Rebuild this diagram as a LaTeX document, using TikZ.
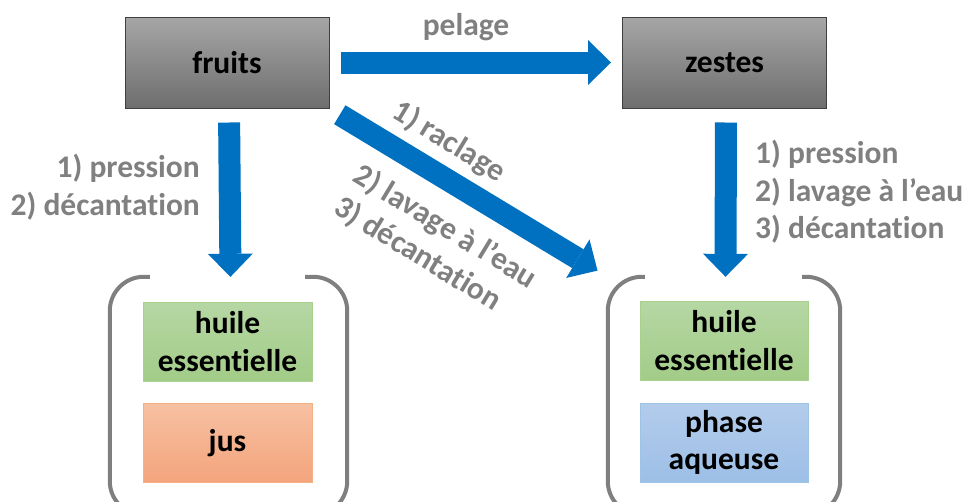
\documentclass[tikz,border=0pt]{standalone}
\usepackage{fontspec}
\setmainfont{Carlito}[Ligatures=NoCommon]
\usetikzlibrary{arrows.meta,calc}
\definecolor{arrowblue}{HTML}{0070C0}
\definecolor{labelgray}{HTML}{808080}
\definecolor{boxtop}{HTML}{A6A6A6}
\definecolor{boxbot}{HTML}{6E6E6E}
\definecolor{boxline}{HTML}{3F3F3F}
\definecolor{greentop}{HTML}{B6D7A4}
\definecolor{greenbot}{HTML}{A2CC88}
\definecolor{greenline}{HTML}{A9D18E}
\definecolor{orangetop}{HTML}{F6C0A2}
\definecolor{orangebot}{HTML}{F4A47C}
\definecolor{orangeline}{HTML}{F4B183}
\definecolor{bluetop}{HTML}{B3CCEC}
\definecolor{bluebot}{HTML}{9DBFE6}
\definecolor{blueline}{HTML}{9DC3E6}
\definecolor{bracketgray}{HTML}{7F7F7F}
\tikzset{
  big/.style={font=\bfseries\fontsize{31.5}{37.5}\selectfont},
  graybox/.style={big, draw=boxline, line width=1pt, top color=boxtop, bottom color=boxbot,
    minimum width=204pt, minimum height=91pt, inner sep=0pt, text=black},
  prodbox/.style={big, line width=1pt, minimum width=169pt, minimum height=79pt, inner sep=0pt,
    align=center, text=black},
  greenbox/.style={prodbox, draw=greenline, top color=greentop, bottom color=greenbot},
  orangebox/.style={prodbox, draw=orangeline, top color=orangetop, bottom color=orangebot},
  bluebox/.style={prodbox, draw=blueline, top color=bluetop, bottom color=bluebot},
  grp/.style={inner sep=0pt, minimum width=235pt, minimum height=238pt},
  bracket/.style={draw=bracketgray, line width=4pt, rounded corners=34pt},
  bigarrow/.style={draw=arrowblue, line width=22pt,
    -{Triangle[width=45pt,length=23pt,line width=0pt]}},
  lbl/.style={big, text=labelgray, inner sep=0pt}
}
\begin{document}
\begin{tikzpicture}[x=1pt,y=-1pt]
\useasboundingbox (0,0) rectangle (965,501);
\clip (0,0) rectangle (965,501);
% main boxes
\node[graybox] (fruits) at (227,62.5) {fruits};
\node[graybox] (zestes) at (724.5,62.5) {zestes};
% product boxes
\node[greenbox] (he1) at (227.5,341.5) {huile\\essentielle};
\node[orangebox] (jus) at (227.5,443) {jus};
\node[greenbox, minimum width=168pt] (he2) at (724,340.5) {huile\\essentielle};
\node[bluebox, minimum width=168pt] (phase) at (724,442.5) {phase\\aqueuse};
% groups
\node[grp, minimum width=237pt] (grpL) at (228.5,396) {};
\node[grp, minimum width=232pt] (grpR) at (724,396) {};
\draw[bracket] ([xshift=40pt]grpL.north west) -- (grpL.north west) -- (grpL.south west)
  -- (grpL.south east) -- (grpL.north east) -- ([xshift=-42pt]grpL.north east);
\draw[bracket] ([xshift=37pt]grpR.north west) -- (grpR.north west) -- (grpR.south west)
  -- (grpR.south east) -- (grpR.north east) -- ([xshift=-38pt]grpR.north east);
% arrows
\draw[bigarrow, shorten <=11pt, shorten >=11pt] (fruits.east) -- (zestes.west);
\draw[bigarrow, shorten <=14pt] ([xshift=2pt]fruits.south) -- ([xshift=2pt]grpL.north);
\draw[bigarrow, shorten <=14pt] ([xshift=1.5pt]zestes.south) -- ([xshift=1.5pt]grpR.north);
\draw[bigarrow, shorten <=12pt, shorten >=12pt] (fruits.south east) -- (grpR.north west);
% labels
\node[lbl] (lpel) at (466,27) {pelage};
\node[lbl, align=right, anchor=east] (lleft) at (200,187) {1) pression\\2) décantation};
\node[lbl, align=left, anchor=west] (lright) at (755,192) {1) pression\\2) lavage à l’eau\\3) décantation};
\node[lbl, rotate=-31.3, align=left] (ldiag) at (455,211) {1) raclage\\[37.5pt]2) lavage à l’eau\\3) décantation};
\end{tikzpicture}
\end{document}
